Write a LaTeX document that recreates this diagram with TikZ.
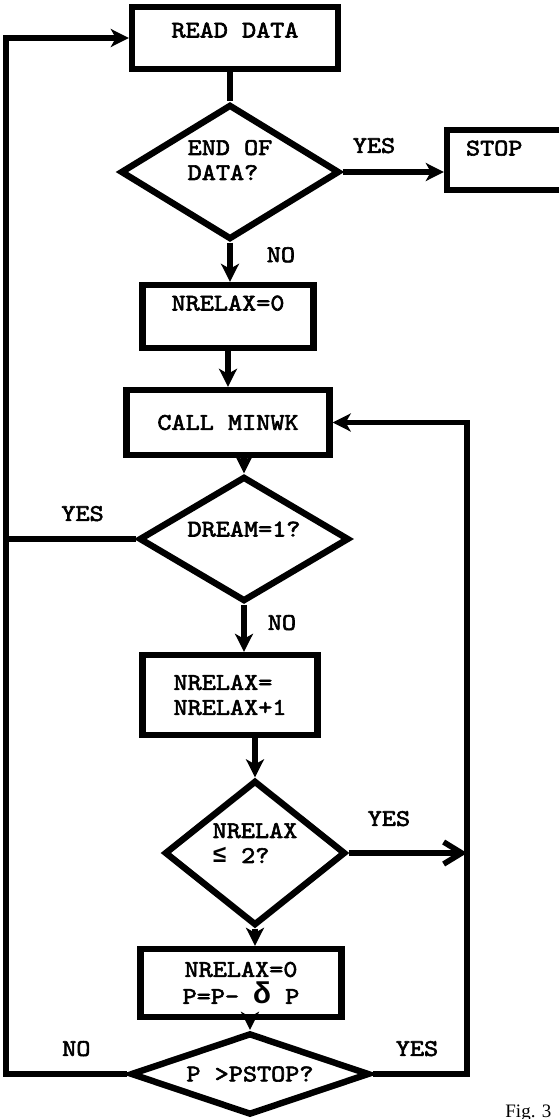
\documentclass[tikz,border=0pt]{standalone}
\usepackage{fontspec}
\setmonofont{lmmono10-regular.otf}[FakeBold=2.5,FakeStretch=1.12]
\newfontfamily\captionfont{Liberation Serif}
\newfontfamily\signfont{Liberation Mono}
\usetikzlibrary{positioning}
\usetikzlibrary{shapes.geometric}
\usetikzlibrary{arrows.meta}

\begin{document}
\begin{tikzpicture}[x=0.5pt,y=-0.5pt,
    font=\ttfamily\fontsize{12}{12.5}\selectfont,
    box/.style={rectangle,draw,line width=3.2pt,inner sep=0pt},
    decide/.style={diamond,draw,line width=3.2pt,inner sep=0pt},
    link/.style={line width=2.8pt},
    flow/.style={-{Stealth[length=9pt,width=9pt,inset=2.5pt]},line width=2.8pt},
    barb/.style={-{Straight Barb[length=9pt,width=11pt]},line width=2.8pt},
    answer/.style={inner sep=0pt}]
    \useasboundingbox (0,0) rectangle (558,1119);
    \coordinate (lft) at (6,38);
    \coordinate (rgt) at (467,422);
    \node (read) at (235,38) [box,minimum width=103pt,minimum height=31pt,text depth=8pt] {READ DATA};
    \node (end) at (230,172) [decide,aspect=1.5,minimum width=109.5pt,minimum height=67.5pt,align=left,text depth=12pt] {END OF\\DATA?};
    \node (stop) at (527,160) [box,minimum width=80pt,minimum height=30pt,text width=61pt,inner xsep=9.5pt,align=left,text depth=12pt] {STOP};
    \node (nrelax) at (228,316.5) [box,minimum width=85.5pt,minimum height=31.5pt,text depth=13.5pt] {NRELAX=0};
    \node (minwk) at (228,422.5) [box,minimum width=101.5pt,minimum height=32.5pt] {CALL MINWK};
    \node (dream) at (244,539) [decide,aspect=2,minimum width=105pt,minimum height=62.5pt,text depth=10pt] {DREAM=1?};
    \node (incr) at (230,695) [box,minimum width=87.5pt,minimum height=40pt,align=left] {NRELAX=\\NRELAX+1};
    \node (small) at (255,853) [decide,aspect=1.2,minimum width=90.5pt,minimum height=72.5pt,align=left,text depth=10pt] {NRELAX\\{\signfont\bfseries ≤} 2?};
    \node (reset) at (241,983) [box,minimum width=100.5pt,minimum height=34pt,align=center] {NRELAX=0\\[1pt]P=P- {\signfont\bfseries\fontsize{15}{15}\selectfont δ} P};
    \node (cmp) at (250,1074) [decide,aspect=3,minimum width=119.5pt,minimum height=41pt] {P >PSTOP?};
    \node (fig) at (505,1117) [anchor=base west,inner sep=0pt,font=\captionfont\fontsize{9.5}{11}\selectfont] {Fig. 3};
    \draw [link] (read.south -| end.north) -- (end.north);
    \draw [flow] (end.east) -- node [answer,above=8pt,pos=.31] {YES} (end.east -| stop.west);
    \draw [flow] (end.south) -- node [answer,right=17pt,pos=.31] {NO} (end.south |- nrelax.north);
    \draw [flow] (nrelax) -- (minwk);
    \draw [flow] (minwk.south -| dream.north) -- (dream.north);
    \draw [link] (dream.west) -- node [answer,above=7.5pt,pos=.41] {YES} (dream.west -| lft);
    \draw [flow] (dream.south) -- node [answer,right=10.5pt,pos=.38] {NO} (dream.south |- incr.north);
    \draw [flow] (incr.south -| small.north) -- (small.north);
    \draw [barb] (small.east) -- node [answer,above=12pt,pos=.34] {YES} (small.east -| rgt);
    \draw [flow] (small.south) -- (small.south |- reset.north);
    \draw [flow] (reset.south -| cmp.north) -- (cmp.north);
    \draw [flow] (cmp.west) -- node [answer,above=7.5pt,pos=.42] {NO} (cmp.west -| lft) |- (read.west);
    \draw [flow] (cmp.east) -- node [answer,above=7.5pt,pos=.47] {YES} (cmp.east -| rgt) |- (minwk.east);
  \end{tikzpicture}
\end{document}
